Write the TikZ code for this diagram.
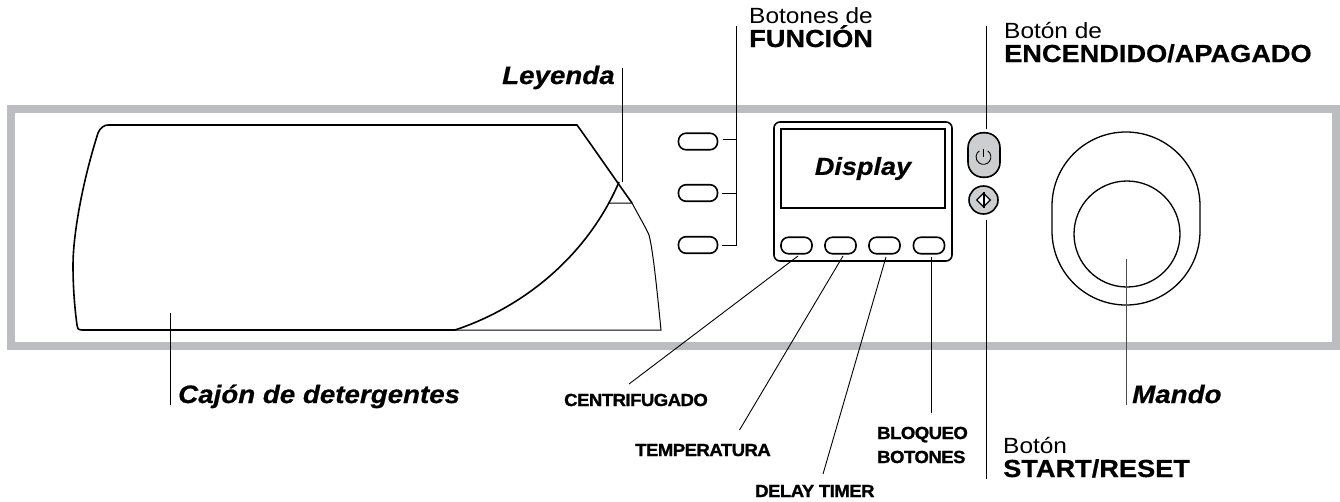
\documentclass[tikz,border=0pt]{standalone}
\usepackage{fontspec}
\setmainfont{Liberation Sans}
\newfontface\heavyup[FakeBold=0.6,FakeStretch=1.1]{Liberation Sans Bold}
\newfontface\heavyit[FakeBold=0.6,FakeStretch=1.1]{Liberation Sans Bold Italic}
\newfontface\tightup[FakeBold=1.2,FakeStretch=1.06,LetterSpace=-3]{Liberation Sans Bold}
\newfontface\lightup[FakeStretch=1.11]{Liberation Sans}
\usetikzlibrary{shapes.geometric}
\definecolor{panelgray}{RGB}{187,189,192}
\definecolor{pwrgray}{RGB}{205,206,208}
\tikzset{
  btn/.style={draw,line width=1.6pt,rounded corners=7.5pt,minimum width=#1,minimum height=16.5pt,inner sep=0pt},
  btn/.default=39pt,
  ldr/.style={line width=.9pt},
  lbl/.style={anchor=base west,inner sep=0pt,align=left},
  tag/.style={lbl,font=\fontsize{25.2}{25.2}\selectfont\heavyit},
  caplbl/.style={lbl,font=\fontsize{24.7}{24.7}\selectfont\heavyup},
  thinlbl/.style={lbl,font=\fontsize{22}{22}\selectfont\lightup},
  smalllbl/.style={lbl,font=\fontsize{17.5}{17.5}\selectfont\tightup}}
\begin{document}
\begin{tikzpicture}[x=1pt,y=-1pt]
\useasboundingbox (0,0) rectangle (1340,501);
% panel frame
\draw[panelgray,line width=8pt] (10.5,108.5) rectangle (1336,346);
% drawer
\draw[line width=1.6pt] (455,330) -- (82,330) .. controls (78,330) and (77,328) .. (77,325)
  .. controls (75,310) and (73,290) .. (73,265) .. controls (73,240) and (80,190) .. (98,133)
  .. controls (100,128) and (104,125) .. (108,125) -- (577,125)
  .. controls (595,150) and (610,172) .. (632,203);
\draw[line width=1.6pt] (455,330) .. controls (530,305) and (590,250) .. (619,182);
\draw[line width=1pt] (608,203) -- (632,203) .. controls (640,218) and (646,228) .. (649,235)
  .. controls (653,250) and (657,290) .. (661,330) -- (455,330);
\coordinate (tip) at (622,182);
\coordinate (drawer) at (170,313);
% function buttons
\node[btn] (f1) at (698,141.5) {};
\node[btn] (f2) at (698,193) {};
\node[btn] (f3) at (698,245) {};
\coordinate (fbus) at (736,26);
\draw[ldr] (fbus) -- (f3.east -| fbus) -- ([xshift=4pt]f3.east);
\draw[ldr] ([xshift=5pt,yshift=2pt]f1.east) -- ([yshift=2pt]f1.east -| fbus);
\draw[ldr] ([xshift=4pt]f2.east) -- (f2.east -| fbus);
% display
\node[draw,line width=1.6pt,rounded corners=6pt,minimum width=178pt,minimum height=139pt,inner sep=0pt] (panel) at (863,191.5) {};
\node[draw,line width=1.6pt,minimum width=164pt,minimum height=79pt,inner sep=0pt,font=\fontsize{24.6}{24.6}\selectfont\heavyit] (screen) at (863,168.5) {Display};
\node[btn=31pt] (b1) at (796.5,245.5) {};
\node[btn=31pt] (b2) at (840.5,245.5) {};
\node[btn=31pt] (b3) at (884.5,245.5) {};
\node[btn=31pt] (b4) at (929,245.5) {};
% power and start
\node[draw,fill=pwrgray,line width=1.6pt,rounded corners=15pt,minimum width=32pt,minimum height=44.5pt,inner sep=0pt] (pwr) at (984,155) {};
\node[draw,fill=pwrgray,line width=1.6pt,ellipse,minimum width=29pt,minimum height=28pt,inner sep=0pt] (start) at (983.5,200) {};
\draw[line width=.9pt] (987.7,150.9) arc[start angle=-55,end angle=235,radius=7.4];
\draw[line width=.9pt] (983.5,148.5) -- (983.5,157);
\node[draw,fill=white,diamond,line width=1.2pt,minimum width=14pt,minimum height=14pt,inner sep=0pt] (gem) at (983.5,200) {};
\draw[line width=2pt] (gem.north) -- (gem.south);
% knob
\node[draw,line width=1.3pt,rounded corners=74pt,minimum width=148pt,minimum height=173pt,inner sep=0pt] (knob) at (1126,218.5) {};
\node[draw,line width=1.3pt,circle,minimum size=106pt,inner sep=0pt] (dial) at (1127,234) {};
% labels
\node[tag] (leyenda) at (502,84) {Leyenda};
\node[tag] (cajon) at (178,403) {Cajón de detergentes};
\node[tag] (mando) at (1132,403) {Mando};
\node[thinlbl] (fun1) at (749,23) {Botones de};
\node[caplbl] (fun2) at (749,47) {FUNCIÓN};
\node[thinlbl] (on1) at (1004,38) {Botón de};
\node[caplbl] (on2) at (1004,62) {ENCENDIDO/APAGADO};
\node[thinlbl] (st1) at (1003,453) {Botón};
\node[caplbl] (st2) at (1003,477) {START/RESET};
\node[smalllbl] (centri) at (564,406) {CENTRIFUGADO};
\node[smalllbl] (temp) at (635,456) {TEMPERATURA};
\node[smalllbl] (delay) at (755,497) {DELAY TIMER};
\node[smalllbl] (bloq1) at (877,439) {BLOQUEO};
\node[smalllbl] (bloq2) at (877,463) {BOTONES};
% leaders
\coordinate (leyendaend) at (622,68);
\coordinate (cajonend) at (170,405);
\coordinate (pwrend) at (986,26);
\coordinate (startend) at (986,479);
\coordinate (mandoend) at (1126,405);
\coordinate (centriend) at (629,384);
\coordinate (tempend) at (739.5,430);
\coordinate (delayend) at (823,474);
\coordinate (bloqend) at (931,413);
\draw[ldr] (leyendaend) -- (tip);
\draw[ldr] (drawer) -- (cajonend);
\draw[ldr] (pwrend) -- ([yshift=3pt]pwr.north -| pwrend);
\draw[ldr] ([yshift=-5pt]start.south -| startend) -- (startend);
\draw[ldr,black!70] (1126,259) coordinate (mandotop) -- (mandoend);
\draw[ldr] (798,256) coordinate (c1) -- (centriend);
\draw[ldr] (843,256) coordinate (c2) -- (tempend);
\draw[ldr] (886,257) coordinate (c3) -- (delayend);
\draw[ldr] (931,257) coordinate (c4) -- (bloqend);
\end{tikzpicture}
\end{document}
